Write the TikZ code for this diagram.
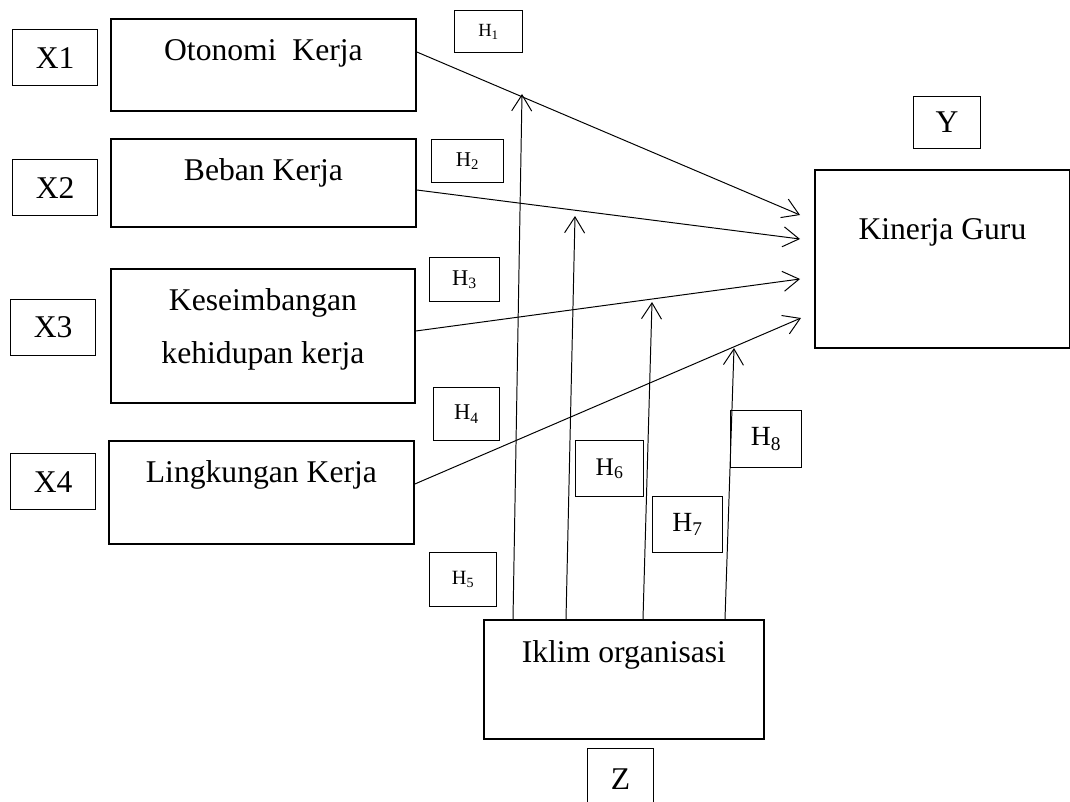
\documentclass[tikz,border=0pt]{standalone}
\usepackage{fontspec}
\setmainfont{Liberation Serif}
\usetikzlibrary{arrows.meta}
\newlength\px
\setlength\px{0.025cm}

\begin{document}
\begin{tikzpicture}[x=0.025cm, y=-0.025cm,
  kotak/.style={draw, line width=1.3pt, inner sep=0pt, anchor=north west, align=center,
    font=\fontsize{22.5}{37.7}\selectfont},
  kotakh/.style={draw, line width=0.9pt, inner sep=0pt, anchor=north west},
  panah/.style={line width=0.7pt, -{Straight Barb[length=0.4cm, width=0.5cm]}}]
  \useasboundingbox (0,0) rectangle (1070,801);

  % variabel bebas
  \foreach \n/\x/\y in {1/12/29, 2/12/159, 3/10/299, 4/10/453}
    \node[kotakh, minimum width=85\px, minimum height=56\px, font=\fontsize{22.5}{27}\selectfont] (x\n) at (\x,\y) {X\n};

  \node[kotak, minimum width=305\px, text height=42\px, text depth=50\px] (otonomi) at (110,18) {Otonomi~ Kerja};
  \node[kotak, minimum width=305\px, text height=42\px, text depth=46\px] (beban) at (110,138) {Beban Kerja};
  \node[kotak, minimum width=304\px, text height=95\px, text depth=39\px] (seimbang) at (110,268) {Keseimbangan\\kehidupan kerja};
  \node[kotak, minimum width=305\px, text height=42\px, text depth=61\px] (lingkungan) at (108,440) {Lingkungan Kerja};
  \node[kotak, minimum width=255\px, text height=70\px, text depth=108\px] (kinerja) at (814,169) {Kinerja Guru};
  \node[kotak, minimum width=280\px, text height=43\px, text depth=76\px] (iklim) at (483,619) {Iklim organisasi};

  \node[kotakh, minimum width=67\px, minimum height=52\px, font=\fontsize{22.5}{27}\selectfont] (y) at (913,96) {Y};
  \node[kotakh, minimum width=66\px, minimum height=60\px, font=\fontsize{22.5}{27}\selectfont] (z) at (587,748) {Z};

  % hipotesis
  \foreach \n/\x/\y/\w/\h/\s in {1/454/10/68/42/13.2, 2/431/139/72/43/15, 3/429/257/70/44/16,
      4/433/387/66/53/16, 5/429/552/67/54/14.4, 6/575/440/68/56/18,
      7/652/496/70/56/19.7, 8/730/410/71/57/19.7}
    \node[kotakh, minimum width=\w\px, minimum height=\h\px, font=\fontsize{\s}{\s}\selectfont] (h\n) at (\x,\y) {H\textsubscript{\n}};

  \coordinate (k1) at (800,215);
  \coordinate (k2) at (800,239);
  \coordinate (k3) at (800,279);
  \coordinate (k4) at (801,318);
  \draw[panah] (otonomi.east |- 0,52) -- (k1);
  \draw[panah] (beban.east |- 0,190) -- (k2);
  \draw[panah] (seimbang.east |- 0,331) -- (k3);
  \draw[panah] (lingkungan.east |- 0,484) -- (k4);

  % moderasi
  \coordinate (t1) at (522,94);
  \coordinate (t2) at (575,216);
  \coordinate (t3) at (652,302);
  \coordinate (t4) at (734,348);
  \draw[panah] (iklim.north -| 513,0) -- (t1);
  \draw[panah] (iklim.north -| 566,0) -- (t2);
  \draw[panah] (iklim.north -| 643,0) -- (t3);
  \draw[panah] (iklim.north -| 725,0) -- (t4);
\end{tikzpicture}
\end{document}
